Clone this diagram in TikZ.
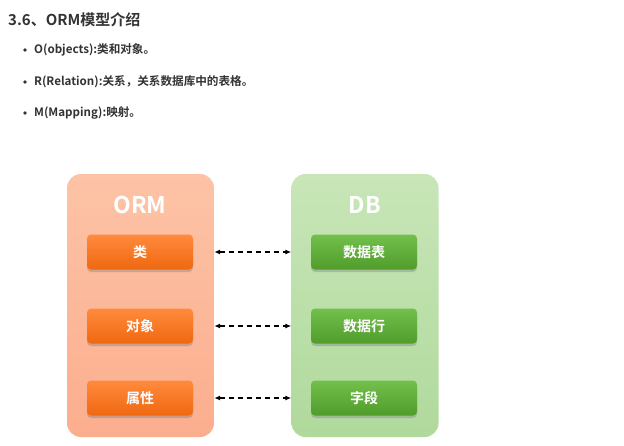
\documentclass[tikz,border=0pt]{standalone}
\usepackage{fontspec}
\setmainfont{Noto Sans CJK SC}[BoldFont={Noto Sans CJK SC Bold}]
\usepackage{tikz}
\usetikzlibrary{calc,arrows.meta,positioning,shadows}
\definecolor{OrmBG}{HTML}{FDC3A6}
\definecolor{OrmBGb}{HTML}{FBAE8E}
\definecolor{OrmTop}{HTML}{FF8A3D}
\definecolor{OrmBot}{HTML}{F06810}
\definecolor{DbBG}{HTML}{C8E6B8}
\definecolor{DbBGb}{HTML}{B0D99C}
\definecolor{DbTop}{HTML}{74C04C}
\definecolor{DbBot}{HTML}{4F9C2C}
\definecolor{HeadCol}{HTML}{333333}

\begin{document}
\begin{tikzpicture}[x=1pt,y=-1pt,>=Latex]
  \tikzstyle{panel}=[rounded corners=14pt, minimum width=147pt, minimum height=263pt,
               inner sep=0pt, draw=none]
  \tikzstyle{itemb}=[rounded corners=4pt, minimum width=106pt, minimum height=35pt,
               inner sep=0pt, font=\bfseries\fontsize{14}{16}\selectfont, text=white,
               drop shadow={shadow xshift=0pt, shadow yshift=-2.5pt, opacity=0.4}]
  \tikzstyle{bulletl}=[anchor=west, inner sep=0pt, font=\bfseries\fontsize{11.6}{13}\selectfont,
               text=HeadCol]
  \tikzstyle{paneltitle}=[font=\bfseries\fontsize{23}{26}\selectfont, text=white]
  \tikzstyle{link}=[{Latex[length=6pt,width=5pt]}-{Latex[length=6pt,width=5pt]},
               line width=1.3pt, dash pattern=on 5pt off 4pt]
  \useasboundingbox[fill=white] (0,0) rectangle (624,445);
  % heading and bullets
  \node[anchor=west, inner sep=0pt, font=\bfseries\fontsize{15}{18}\selectfont, text=HeadCol]
       (title) at (8,20) {3.6、ORM模型介绍};
  \node[bulletl] (b1) at (34,50) {O(objects):类和对象。};
  \node[bulletl] (b2) at (34,82) {R(Relation):关系，关系数据库中的表格。};
  \node[bulletl] (b3) at (34,113) {M(Mapping):映射。};
  \foreach \n in {b1,b2,b3}
    \fill[HeadCol] ($(\n.west)+(-9,0)$) circle (1.8pt);
  % ORM side
  \node[panel, top color=OrmBG, bottom color=OrmBGb] (orm) at (140.5,305.5) {};
  \node[paneltitle] (ormt) at (140,205) {ORM};
  \node[itemb, top color=OrmTop, bottom color=OrmBot] (o1) at (140,252) {类};
  \node[itemb, top color=OrmTop, bottom color=OrmBot] (o2) at (140,326) {对象};
  \node[itemb, top color=OrmTop, bottom color=OrmBot] (o3) at (140,398) {属性};
  % DB side
  \node[panel, top color=DbBG, bottom color=DbBGb] (db) at (365,305.5) {};
  \node[paneltitle] (dbt) at (365,205) {DB};
  \node[itemb, top color=DbTop, bottom color=DbBot] (d1) at (364,252) {数据表};
  \node[itemb, top color=DbTop, bottom color=DbBot] (d2) at (364,326) {数据行};
  \node[itemb, top color=DbTop, bottom color=DbBot] (d3) at (364,398) {字段};
  % mapping arrows
  \foreach \i in {1,2,3}
    \draw[link] (orm.east |- o\i) -- (db.west |- d\i);
\end{tikzpicture}
\end{document}
